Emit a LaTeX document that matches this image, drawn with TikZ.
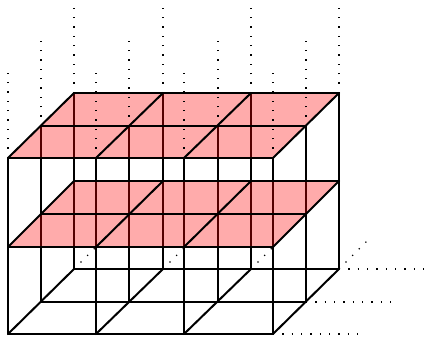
\documentclass[tikz,border=0pt]{standalone}
\tikzset{
  edge/.style={black,line width=2pt,line cap=round,line join=round},
  dotline/.style={black,line width=1.2pt,dash pattern=on 1.2pt off 8.15pt,shift={(0.3pt,0.3pt)}},
  plane/.style={fill={rgb,255:red,255;green,0;blue,0},fill opacity=0.33},
}
\begin{document}
\begin{tikzpicture}[x=1pt,y=-1pt]
\useasboundingbox (0,0) rectangle (425,339);
% lattice points c<column><depth><level>, on whole pixels
\foreach \i/\xp/\xq/\xr in {0/8/41/74,1/96/129/163,2/184/218/251,3/273/306/339}
  \foreach \j/\xx in {0/\xp,1/\xq,2/\xr}
    \foreach \k/\ya/\yc/\ye in {0/334/302/269,1/247/214/181,2/158/126/93}{
      \pgfmathsetmacro{\yy}{{\ya,\yc,\ye}[\j]}
      \coordinate (c\i\j\k) at (\xx,\yy);
    }
% floor depth dotted lines (only their visible part, below the lower plane)
\foreach \i in {0,1,2}
  \draw[dotline] (c\i20) -- ++(21,-21);
% vertical edges
\foreach \i in {0,1,2,3}\foreach \j in {0,1,2}
  \draw[edge] (c\i\j0) -- (c\i\j2);
% red planes
\foreach \k in {1,2}
  \fill[plane] (c00\k) -- (c30\k) -- (c32\k) -- (c02\k) -- cycle;
% grids of the floor and both planes
\foreach \k in {0,1,2}{
  \foreach \j in {0,1,2}
    \draw[edge] (c0\j\k) -- (c3\j\k);
  \foreach \i in {0,1,2,3}
    \draw[edge] (c\i0\k) -- (c\i2\k);
}
% dotted continuations
\foreach \i in {0,1,2,3}\foreach \j in {0,1,2}
  \draw[dotline] (c\i\j2) -- ++(0,-88);
\foreach \j in {0,1,2}
  \draw[dotline] (c3\j0) -- ++(88,0);
\draw[dotline] (c320) -- ++(33,-33);
\end{tikzpicture}
\end{document}
